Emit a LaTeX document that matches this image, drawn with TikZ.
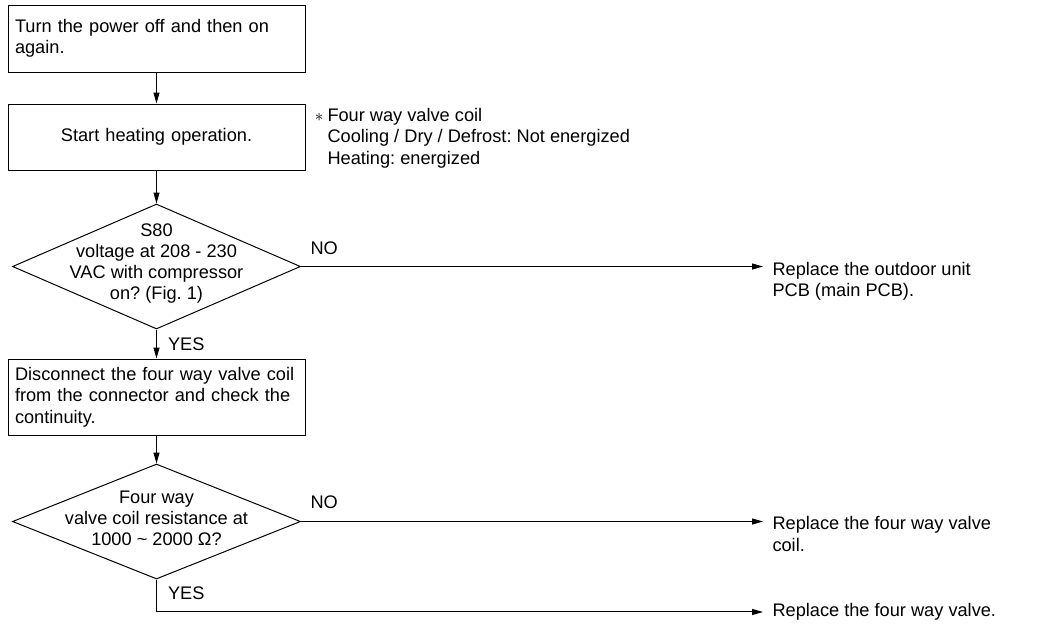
\documentclass[tikz,border=0pt]{standalone}
\usepackage{fontspec}
\setmainfont{Liberation Sans}
\usetikzlibrary{shapes.geometric,arrows.meta}
\frenchspacing

\begin{document}
\begin{tikzpicture}[
    x=1pt, y=-1pt,
    line width=1pt,
    font=\fontsize{18.2}{21.3}\selectfont,
    process/.style={draw, text width=283pt, inner xsep=7pt, inner ysep=0pt, align=left},
    decision/.style={draw, diamond, minimum width=288pt, inner sep=0pt},
    answer/.style={anchor=north west, inner sep=0pt, align=left},
    tag/.style={inner sep=0pt},
    flow/.style={-{Triangle[length=11pt,width=6pt]}}
]
\useasboundingbox (0,0) rectangle (1043,625);

% -------------------------------------------------
% Steps of the check
% -------------------------------------------------
\node[process, minimum height=67pt] (powercycle) at (156.5,38.5) {Turn the power off and then on\\again.};
\node[process, minimum height=66pt, align=center] (heating) at (156.5,137) {Start heating operation.};
\node[process, minimum height=76pt] (disconnect) at (156.5,397) {Disconnect the four way valve coil\\from the connector and check the\\continuity.};

% Side note next to the heating step
\node[answer] (note) at (327,108) {\llap{$\ast$\hspace{4pt}}Four way valve coil\\Cooling / Dry / Defrost: Not energized\\Heating: energized};

% -------------------------------------------------
% Decisions
% -------------------------------------------------
\node[decision, minimum height=125pt,
      label={[align=center, yshift=3pt]center:{S80\\voltage at 208 - 230\\VAC with compressor\\on? (Fig. 1)}}] (checkS80) at (156.5,266.5) {};
\node[decision, minimum height=115pt,
      label={[align=center, yshift=3pt]center:{Four way\\valve coil resistance at\\1000 \textasciitilde{} 2000 Ω?}}] (checkcoil) at (156.5,521.5) {};

% -------------------------------------------------
% Remedies
% -------------------------------------------------
\node[answer] (pcb) at (772,262) {Replace the outdoor unit\\PCB (main PCB).};
\node[answer] (coil) at (772,516) {Replace the four way valve\\coil.};
\node[answer] (valve) at (772,603) {Replace the four way valve.};

% Answer labels
\node[tag, anchor=south west] (no1) at ([xshift=9pt,yshift=11pt]checkS80.east) {NO};
\node[tag, anchor=south west] (no2) at ([xshift=9pt,yshift=12pt]checkcoil.east) {NO};
\node[tag, anchor=north west] (yes1) at ([xshift=11pt,yshift=-8pt]checkS80.south) {YES};
\node[tag, anchor=north west] (yes2) at ([xshift=11pt,yshift=-7pt]checkcoil.south) {YES};

% -------------------------------------------------
% Connectors
% -------------------------------------------------
\draw[flow] (powercycle) -- (heating);
\draw[flow] (heating) -- (checkS80);
\draw[flow] (checkS80) -- (disconnect);
\draw[flow] (disconnect) -- (checkcoil);
\draw[flow, shorten >=9pt] (checkS80.east) -- (checkS80.east -| pcb.west);
\draw[flow, shorten >=9pt] (checkcoil.east) -- (checkcoil.east -| coil.west);
\draw[flow, shorten >=9pt] (checkcoil.south) |- (valve.west);

\end{tikzpicture}
\end{document}
